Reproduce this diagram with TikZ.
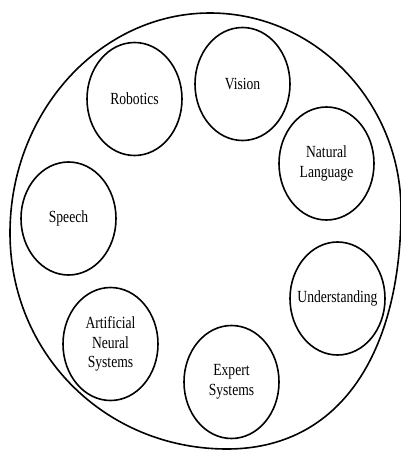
\documentclass[tikz,border=0pt]{standalone}
\usepackage{fontspec}
\setmainfont[FakeStretch=0.8]{Liberation Serif}
\usetikzlibrary{shapes.geometric}

\begin{document}
\begin{tikzpicture}[x=1pt,y=-1pt,
  field/.style={draw, line width=1.6pt, ellipse, inner xsep=-25pt, inner ysep=0pt,
    minimum width=95pt, minimum height=113pt, align=center,
    font=\fontsize{17}{19.5}\selectfont}]
\useasboundingbox (0,0) rectangle (401,450);
\clip (0,0) rectangle (401,450);
% outer boundary
\draw[line width=1.6pt] (210,13) .. controls (315,13) and (401,102) .. (401,210)
  .. controls (401,353) and (340,449) .. (227,449)
  .. controls (105.5,449) and (10,354) .. (10,233)
  .. controls (10,112) and (100,13) .. (210,13) -- cycle;
% fields
\node[field] (robotics) at (134.5,99) {Robotics};
\node[field] (vision) at (242.5,84) {Vision};
\node[field] (natlang) at (326.5,163.5) {Natural\\Language};
\node[field] (speech) at (68.5,218.5) {Speech};
\node[field] (underst) at (337.5,298.5) {Understanding};
\node[field] (ans) at (110.5,344) {Artificial\\Neural\\Systems};
\node[field] (expert) at (231.5,382) {Expert\\Systems};
\end{tikzpicture}
\end{document}
